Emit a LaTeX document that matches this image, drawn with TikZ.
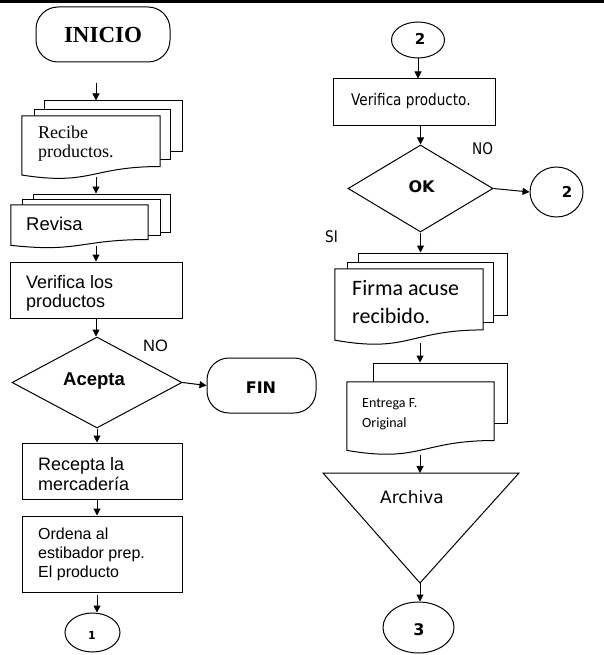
\documentclass[tikz,border=0pt]{standalone}
\usepackage{fontspec}
\setmainfont{Liberation Serif}
\newfontfamily\arialf{Liberation Sans}
\newfontfamily\tahf[FakeStretch=0.85]{DejaVu Sans}
\newfontfamily\dvsf{DejaVu Sans}
\newfontfamily\calf{Carlito}
\usetikzlibrary{arrows.meta,shapes.geometric,calc}
\newcommand\docwave[1]{\draw[line width=1pt, fill=white] (#1.north west) -- (#1.north east) -- ($(#1.north east)!0.8!(#1.south east)$) .. controls ($(#1.north)!0.8!(#1.south)$) and ($(#1.north)!1.107!(#1.south)$) .. ($(#1.north west)!0.934!(#1.south west)$) -- cycle;}
\tikzset{
  arr/.style={-{Triangle[length=7pt,width=7pt]}, line width=1pt},
  box/.style={draw, line width=1pt, fill=white, inner sep=0pt, rectangle},
  docf/.style={inner sep=0pt, rectangle},
  term/.style={draw, line width=1pt, rounded corners=22pt, inner sep=0pt},
  conn/.style={draw, ellipse, line width=1pt, inner sep=0pt},
  dec/.style={draw, diamond, line width=1pt, inner sep=0pt},
  lt/.style={anchor=base west, inner sep=0pt},
  ct/.style={anchor=base, inner sep=0pt},
}
\begin{document}
\begin{tikzpicture}[x=1pt,y=-1pt]
\useasboundingbox (0,0) rectangle (604,655);
\fill[white] (0,0) rectangle (604,655);
\draw[line width=2.6pt] (0,1.3) -- (604,1.3);

% ---------- left column ----------
\node[term, minimum width=134, minimum height=55] (ini) at (103,34.5) {};
\node[ct, font=\bfseries\fontsize{23}{25}\selectfont] (tini) at (103,43) {INICIO};

\node[box, minimum width=138, minimum height=51] (rcb3) at (113,126.5) {};
\node[box, minimum width=136, minimum height=50] (rcb2) at (102,135) {};
\node[docf, minimum width=138, minimum height=63] (rcb) at (91,147.5) {};
\docwave{rcb}
\node[lt, font=\fontsize{18}{20}\selectfont] (trcb1) at (38,139) {Recibe};
\node[lt, font=\fontsize{18}{20}\selectfont] (trcb2) at (38,158) {productos.};

\node[box, minimum width=137, minimum height=38] (rev3) at (101.5,213) {};
\node[box, minimum width=138, minimum height=36] (rev2) at (91,217) {};
\node[docf, minimum width=137, minimum height=43] (rev) at (79.5,226.5) {};
\docwave{rev}
\node[lt, font=\arialf\fontsize{18.5}{20}\selectfont] (trev) at (26,230) {Revisa};

\node[box, minimum width=172, minimum height=56] (ver) at (96,290) {};
\node[lt, font=\arialf\fontsize{18}{20}\selectfont] (tver1) at (26,288) {Verifica los};
\node[lt, font=\arialf\fontsize{18}{20}\selectfont] (tver2) at (26,307) {productos};

\node[dec, minimum width=170, minimum height=91] (acep) at (97,382.5) {};
\node[ct, font=\arialf\bfseries\fontsize{18.5}{20}\selectfont] (tacep) at (94,385) {Acepta};
\node[lt, font=\arialf\fontsize{16.5}{18}\selectfont] (tno1) at (143,351) {NO};

\node[term, minimum width=109, minimum height=55] (fin) at (261.5,385.5) {};
\node[ct, font=\dvsf\bfseries\fontsize{16}{18}\selectfont] (tfin) at (261,393) {FIN};

\node[box, minimum width=160, minimum height=56] (rec) at (102,471) {};
\node[lt, font=\arialf\fontsize{18}{20}\selectfont] (trec1) at (38,470) {Recepta la};
\node[lt, font=\arialf\fontsize{18}{20}\selectfont] (trec2) at (38,490) {mercadería};

\node[box, minimum width=160, minimum height=76] (ord) at (102,554) {};
\node[lt, font=\arialf\fontsize{16}{18}\selectfont] (tord1) at (38,539) {Ordena al};
\node[lt, font=\arialf\fontsize{16}{18}\selectfont] (tord2) at (38,558) {estibador prep.};
\node[lt, font=\arialf\fontsize{16}{18}\selectfont] (tord3) at (38,577) {El producto};

\node[conn, minimum width=55, minimum height=39] (c1) at (92.5,632.5) {};
\node[ct, font=\dvsf\bfseries\fontsize{11}{12}\selectfont] (tc1) at (92,639) {1};

% left arrows
\coordinate (a1) at (96,83);
\draw[arr] (a1) -- (a1 |- rcb3.north);
\coordinate (a2) at (96,177);
\draw[arr] (a2) -- (a2 |- rev3.north);
\coordinate (a3) at (96,246);
\draw[arr] (a3) -- (a3 |- ver.north);
\draw[arr] (ver.south) -- (ver.south |- acep.north);
\draw[arr] (acep.east) -- (fin.west);
\draw[arr] (acep.south) -- (acep.south |- rec.north);
\draw[arr] (acep.south |- rec.south) -- (acep.south |- ord.north);
\coordinate (a4) at (97,595);
\draw[arr] (a4) -- (a4 |- c1.north);

% ---------- right column ----------
\node[conn, minimum width=53, minimum height=36] (c2t) at (418,40) {};
\node[ct, font=\dvsf\bfseries\fontsize{15}{17}\selectfont] (tc2t) at (420,45) {2};

\node[box, minimum width=162, minimum height=47] (vp) at (414,102.5) {};
\node[lt, font=\tahf\fontsize{16}{18}\selectfont] (tvp) at (351,106) {Verifica producto.};

\node[dec, minimum width=145, minimum height=87] (ok) at (420.5,188.5) {};
\node[ct, font=\dvsf\bfseries\fontsize{16}{18}\selectfont] (tok) at (421.5,192) {OK};
\node[lt, font=\tahf\fontsize{16}{18}\selectfont] (tno2) at (472,155) {NO};
\node[lt, font=\tahf\fontsize{16}{18}\selectfont] (tsi) at (325,242) {SI};

\node[conn, minimum width=53, minimum height=50] (c2r) at (556.5,192) {};
\node[ct, font=\dvsf\bfseries\fontsize{15}{17}\selectfont] (tc2r) at (567,197) {2};

\node[box, minimum width=149, minimum height=62] (fir3) at (432.5,284) {};
\node[box, minimum width=146, minimum height=60] (fir2) at (420,292) {};
\node[docf, minimum width=148, minimum height=76] (fir) at (409,307) {};
\docwave{fir}
\node[lt, font=\calf\fontsize{22}{24}\selectfont] (tfir1) at (352,295) {Firma acuse};
\node[lt, font=\calf\fontsize{22}{24}\selectfont] (tfir2) at (352,323) {recibido.};

\node[box, minimum width=134, minimum height=60] (ent2) at (440,393) {};
\node[docf, minimum width=147, minimum height=73] (ent) at (420.5,418.5) {};
\docwave{ent}
\node[lt, font=\calf\fontsize{14}{16}\selectfont] (tent1) at (362,407) {Entrega F.};
\node[lt, font=\calf\fontsize{14}{16}\selectfont] (tent2) at (362,427) {Original};

\coordinate (archTL) at (323,473);
\coordinate (archTR) at (519,473);
\coordinate (archB) at (420,583);
\coordinate (archT) at (420,473);
\draw[line width=1pt, fill=white] (archTL) -- (archTR) -- (archB) -- cycle;
\node[lt, font=\dvsf\fontsize{17}{19}\selectfont] (tarch) at (380,503) {Archiva};

\node[conn, minimum width=71, minimum height=51] (c3) at (418.5,627.5) {};
\node[ct, font=\dvsf\bfseries\fontsize{16}{18}\selectfont] (tc3) at (419,635) {3};

% right arrows
\draw[arr] (c2t.south) -- (c2t.south |- vp.north);
\draw[arr] (ok.north |- vp.south) -- (ok.north);
\draw[arr] (ok.east) -- (c2r.west);
\draw[arr] (ok.south) -- (ok.south |- fir3.north);
\coordinate (b1) at (420,343);
\draw[arr] (b1) -- (b1 |- ent2.north);
\coordinate (b2) at (420,455);
\draw[arr] (b2) -- (archT);
\draw[arr] (archB) -- (archB |- c3.north);
\end{tikzpicture}
\end{document}
